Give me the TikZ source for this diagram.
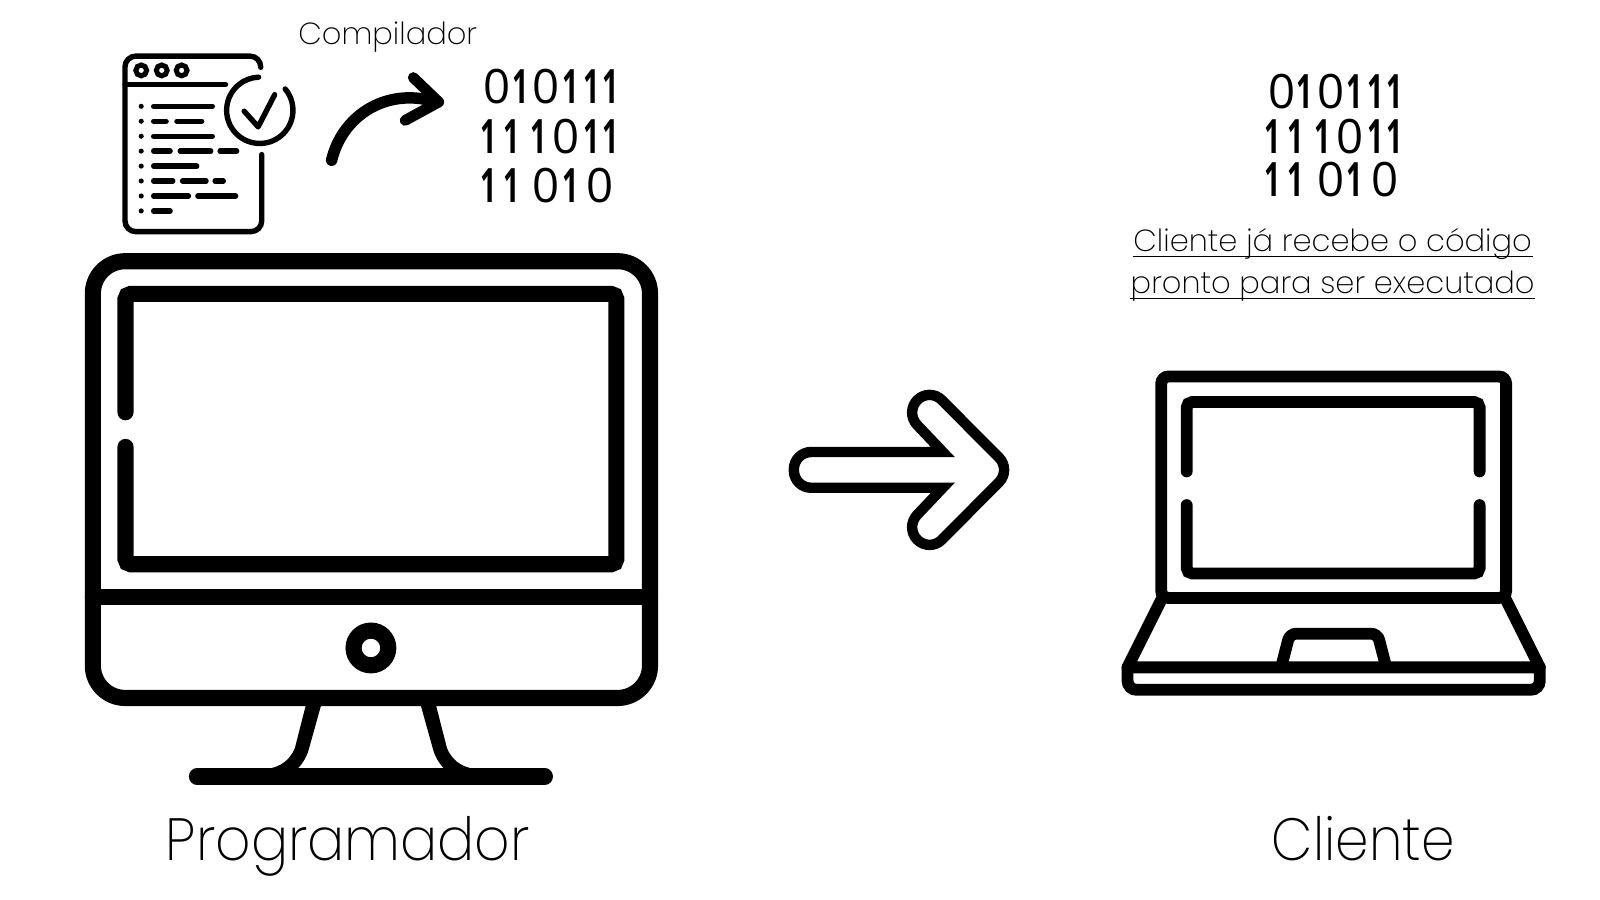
\documentclass[tikz,border=0pt]{standalone}
\usepackage{fontspec}
\setmainfont{Poppins ExtraLight}
\newfontfamily\tallfont[FakeStretch=0.9]{Poppins ExtraLight}
\newfontfamily\bitfont{Open Sans}
\tikzset{
	bigline/.style={line width=4.5pt,line cap=round},
	lapline/.style={line width=3.3pt,line cap=round},
	docline/.style={line width=1.5pt,line cap=round},
	bigtext/.style={inner sep=0pt,anchor=base,font=\tallfont\fontsize{16.6}{20}\selectfont},
	smalltext/.style={inner sep=0pt,anchor=base,font=\fontsize{8.5}{10}\selectfont},
	bittext/.style={inner sep=0pt,font=\bitfont\fontsize{13.2}{16}\selectfont}
}
\setlength{\unitlength}{0.01cm}
% one digit of a row, #1 from the left end of the row
\newcommand{\bz}[1]{\makebox[0pt][l]{\hspace{#1\unitlength}\makebox[0pt]{0}}}
\newcommand{\bo}[1]{\makebox[0pt][l]{\hspace{#1\unitlength}\makebox[0pt]{\scalebox{0.6}[1]{\bfseries 1}}}}
\newcommand{\bitsone}{\makebox[126\unitlength][l]{\bz{12}\bo{35}\bz{60}\bo{84}\bo{104}\bo{123}}}
\newcommand{\bitstwo}{\makebox[126\unitlength][l]{\bo{3}\bo{26}\bo{52}\bz{79}\bo{104}\bo{123}}}
\newcommand{\bitsthree}{\makebox[126\unitlength][l]{\bo{3}\bo{26}\bz{60}\bo{84}\bz{113}}}
\begin{document}
\begin{tikzpicture}[x=0.01cm,y=-0.01cm]
	\useasboundingbox (0,0) rectangle (1568,882);
	% monitor
	\draw[bigline,rounded corners=9pt] (91,585) -- (91,256) -- (637,256) -- (637,684) -- (91,684) -- cycle;
	\draw[bigline] (91,585) -- (637,585);
	\draw[bigline,rounded corners=1.5pt] (123,404) -- (123,288) -- (604,288) -- (604,553) -- (123,553) -- (123,438);
	\draw[bigline] (363.5,635) circle (17);
	\fill (300,690) -- (289,733) .. controls (283,748) and (270,754) .. (255,754) -- (291,754) .. controls (297,748) and (301,741) .. (303,733) -- (315,690) -- cycle;
	\fill (427,690) -- (438,733) .. controls (444,748) and (457,754) .. (472,754) -- (436,754) .. controls (430,748) and (426,741) .. (424,733) -- (412,690) -- cycle;
	\draw[bigline] (193,761) -- (534,761);
	% big arrow
	\draw[line width=2.9pt] (850,443) -- (924,443) [rounded corners=4.8pt] -- (887,404) -- (911,380) -- (991,460.5) -- (911,541) -- (887,517) [sharp corners] -- (924,478) [rounded corners=4.8pt] -- (778,478) -- (778,443) [sharp corners] -- cycle;
	% laptop
	\draw[lapline,rounded corners=2pt] (1138,586) -- (1138,369) -- (1476,369) -- (1476,586) -- cycle;
	\draw[lapline,rounded corners=1.5pt] (1163,462) -- (1163,394) -- (1450,394) -- (1450,462);
	\draw[lapline,rounded corners=1.5pt] (1163,495) -- (1163,562) -- (1450,562) -- (1450,495);
	\draw[lapline,line join=round] (1138,588) -- (1105,654) -- (1509,654) -- (1476,588);
	\draw[lapline,rounded corners=2.5pt] (1105,654) -- (1105,676) -- (1509,676) -- (1509,654);
	\draw[lapline,rounded corners=1.8pt] (1256,652) -- (1264,621) -- (1350,621) -- (1358,652);
	% code window
	\draw[docline,rounded corners=3pt] (255.5,66) -- (255.5,55) -- (122.5,55) -- (122.5,227) -- (256.5,227) -- (256.5,151.5);
	\draw[docline] (122.5,83) -- (221,83);
	\foreach \cx in {138.4,158.5,178} \draw[line width=1.4pt] (\cx,69) circle (5.3);
	\foreach \ly in {104.2,118.8,133.5,148.1,162.8,177.4,192.1,206.7} \fill (138.4,\ly) circle (2.5);
	\foreach \xa/\xb/\ly in {150.6/208.1/104.2,150.6/162.8/118.8,173.4/197.7/118.8,150.6/208.1/133.5,150.6/166.7/148.1,176.6/206.5/148.1,215.7/231.9/148.1,150.6/192.8/162.8,150.6/169.3/177.4,178.9/201.9/177.4,210.8/218.8/177.4,150.6/184.7/192.1,193.9/230.9/192.1,150.6/166.7/206.7}
		\draw[docline] (\xa,\ly) -- (\xb,\ly);
	\draw[docline] (254.6,108.1) ++(-40:32.5) arc (-40:268:32.5);
	\draw[docline,line join=round] (239.3,109) -- (253,124.3) -- (269.2,92.8);
	% curved arrow
	\draw[line width=3.2pt,line cap=round] (325,157) .. controls (335,115) and (375,88) .. (420,98);
	\draw[line width=3pt,line cap=round,line join=round] (405,76) -- (430,100) -- (397,118);
	% texts
	\node[smalltext] (compilador) at (380,44) {Compilador};
	\node[bittext] (bitsa) at (538.5,84.6) {\bitsone};
	\node[bittext] (bitsb) at (538.5,134) {\bitstwo};
	\node[bittext] (bitsc) at (538.5,181.7) {\bitsthree};
	\node[bittext] (bitsd) at (1307,90) {\bitsone};
	\node[bittext] (bitse) at (1307,133.5) {\bitstwo};
	\node[bittext] (bitsf) at (1307,176) {\bitsthree};
	\node[smalltext] (recebe) at (1306,246.5) {Cliente já recebe o código};
	\node[smalltext] (pronto) at (1306,287.5) {pronto para ser executado};
	\draw[line width=0.4pt] ([yshift=-1.4pt]recebe.base west) -- ([yshift=-1.4pt]recebe.base east);
	\draw[line width=0.4pt] ([yshift=-1.4pt]pronto.base west) -- ([yshift=-1.4pt]pronto.base east);
	\node[bigtext] (programador) at (341,843) {\scalebox{1.03}[1]{Programador}};
	\node[bigtext] (cliente) at (1336,843) {Cliente};
\end{tikzpicture}
\end{document}
